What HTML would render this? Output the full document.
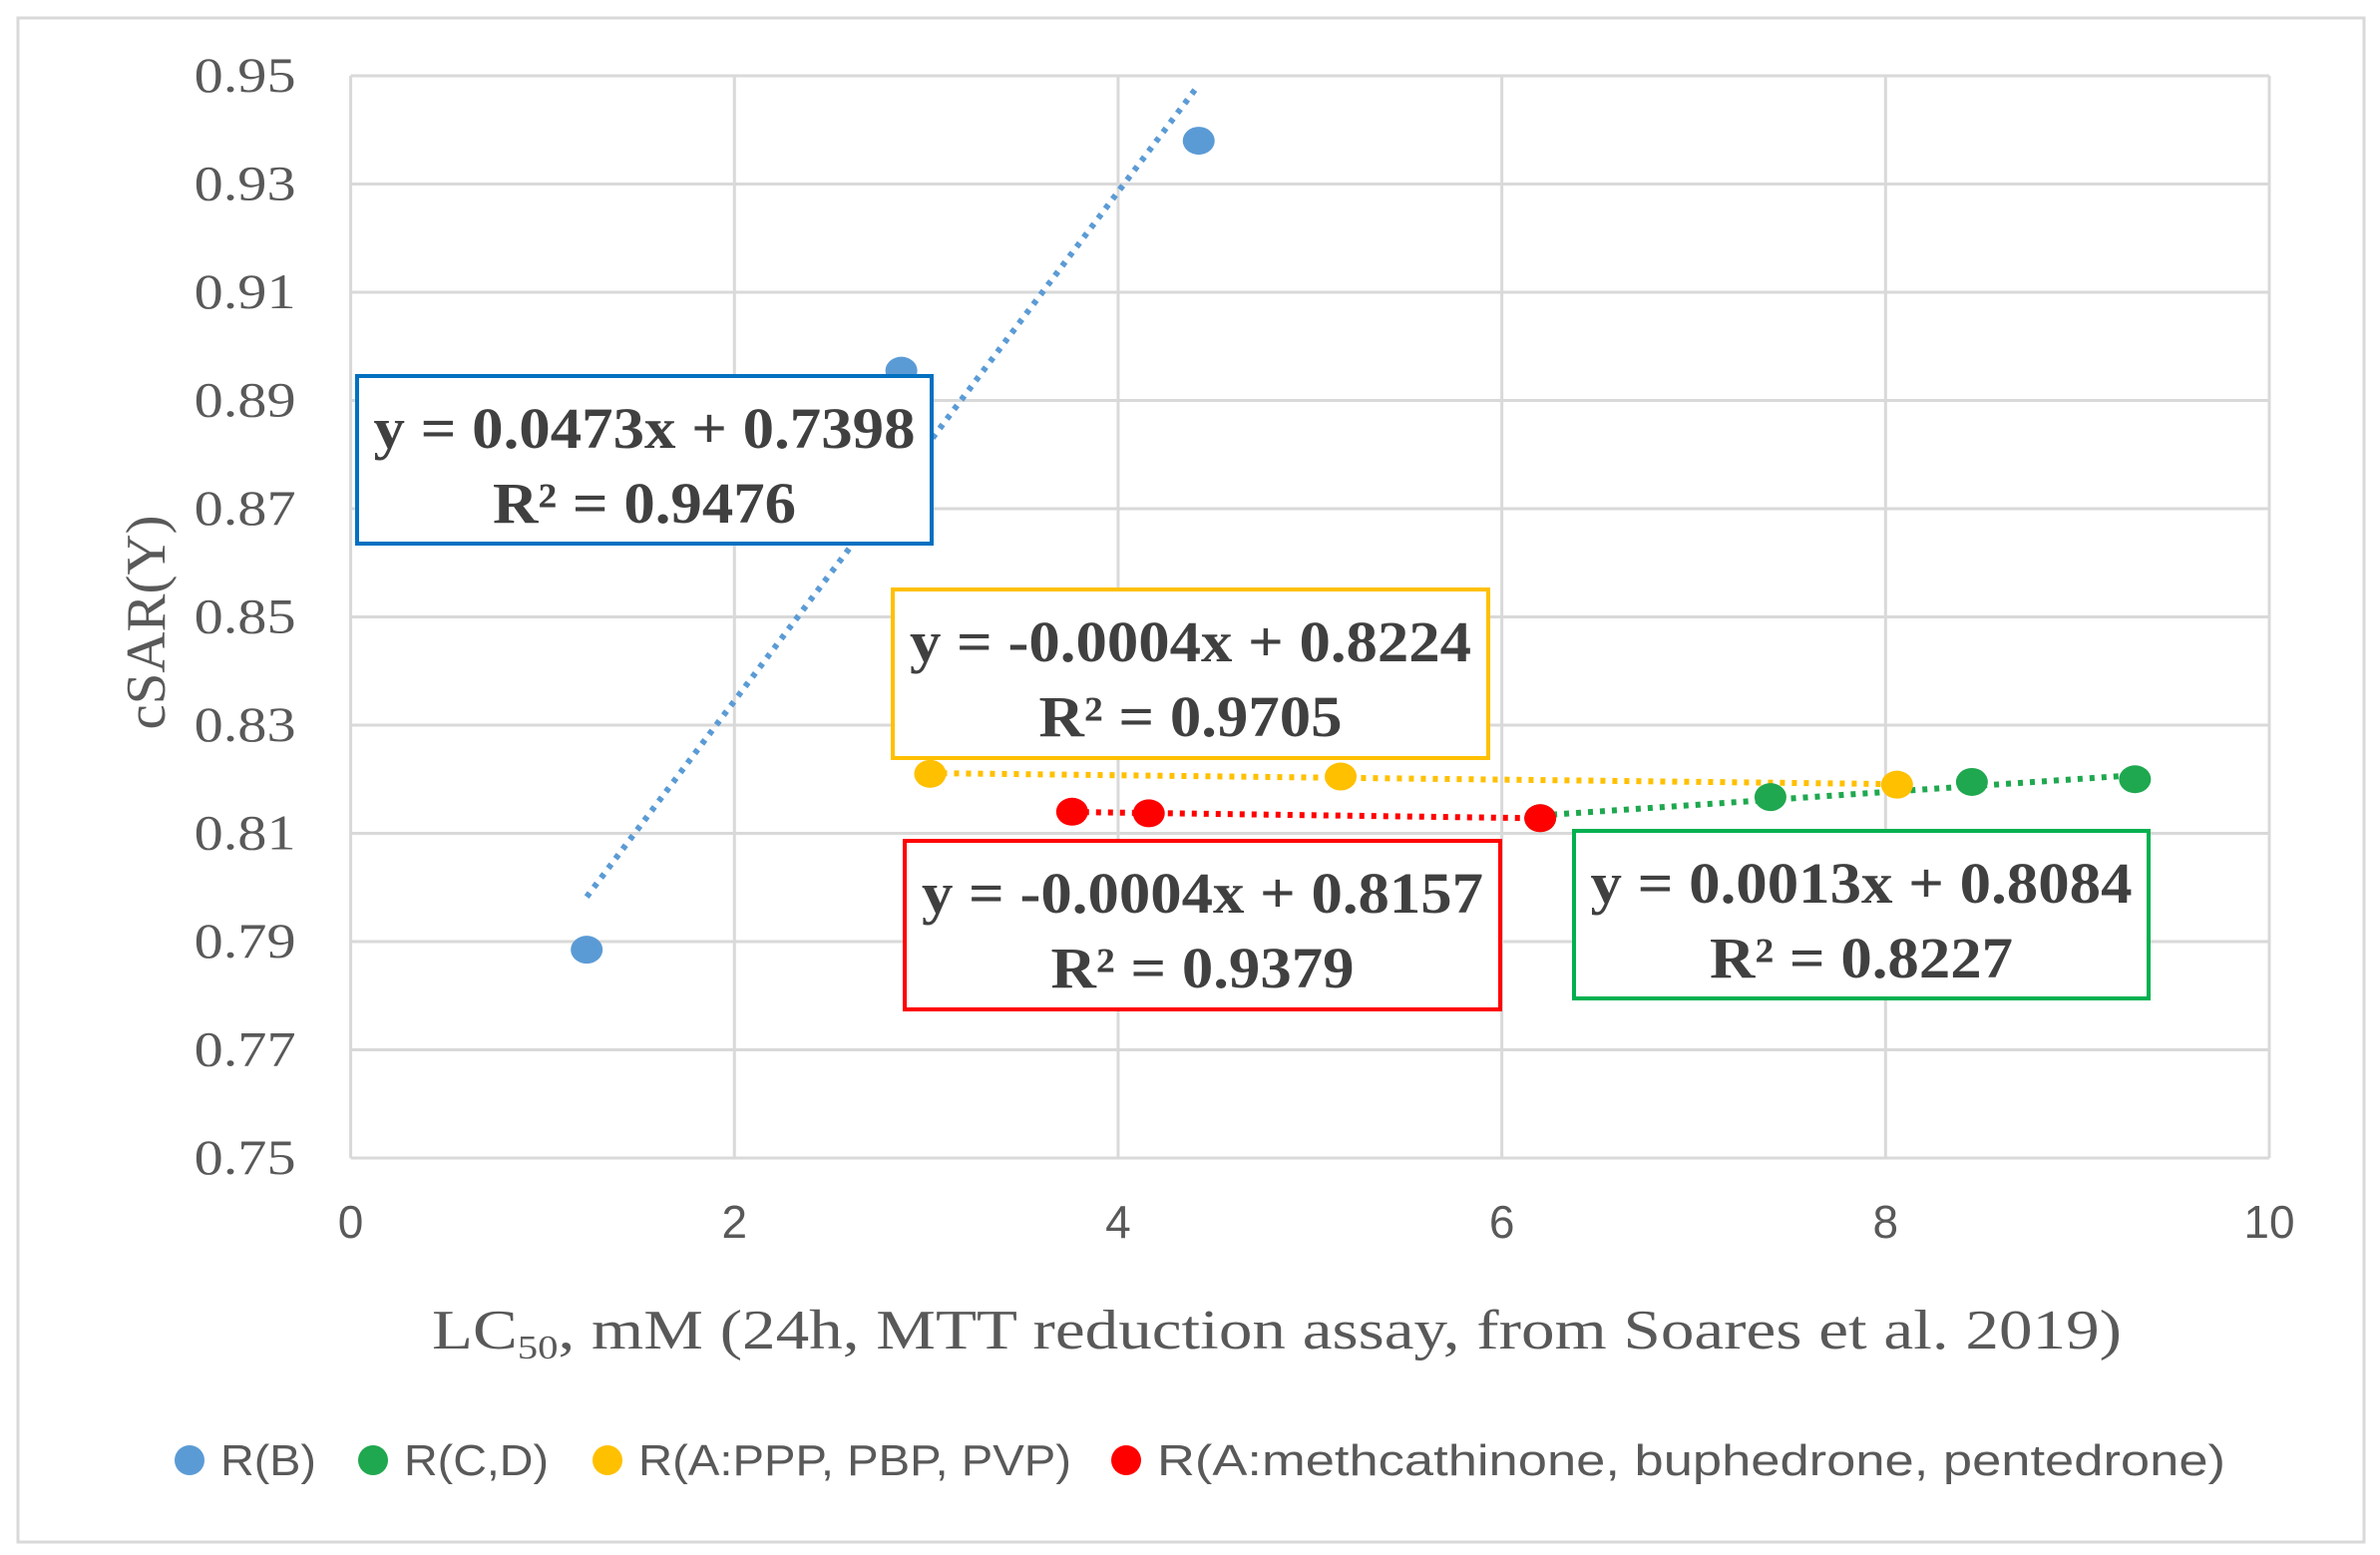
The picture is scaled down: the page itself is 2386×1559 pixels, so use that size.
<!DOCTYPE html>
<html><head><meta charset="utf-8"><style>
body{margin:0;background:#fff}
svg{display:block}
</style></head><body>
<svg id="chart" width="2386" height="1559" xmlns="http://www.w3.org/2000/svg">
<rect x="18" y="18" width="2352" height="1528" fill="#fff" stroke="#d9d9d9" stroke-width="3"/>
<g id="grid"></g>
<g id="trends"></g>
<g id="points"></g>
<g id="boxes"></g>
<text transform="translate(165,624) rotate(-90)" text-anchor="middle" font-family="Liberation Serif, serif" font-size="56" fill="#595959" textLength="215" lengthAdjust="spacingAndGlyphs">cSAR(Y)</text>
<text x="433" y="1352" font-family="Liberation Serif, serif" font-size="56" fill="#595959" textLength="1694" lengthAdjust="spacingAndGlyphs">LC<tspan font-size="34" dy="10">50</tspan><tspan dy="-10">, mM (24h, MTT reduction assay, from Soares et al. 2019)</tspan></text>
<g id="legend" font-family="Liberation Sans, sans-serif" font-size="44" fill="#595959"></g>
</svg>
<script>
const xTicks=[0,2,4,6,8,10];
const yTicks=[0.75,0.77,0.79,0.81,0.83,0.85,0.87,0.89,0.91,0.93,0.95];
const seriesNames=["R(B)","R(C,D)","R(A:PPP, PBP, PVP)","R(A:methcathinone, buphedrone, pentedrone)"];
const seriesColors=["#5b9bd5","#1fa84f","#ffc000","#ff0000"];
const blueX=[1.23,2.87,4.42];
const blueY=[0.7885,0.8955,0.938];
const greenX=[6.2,7.4,8.45,9.3];
const greenY=[0.8128,0.8167,0.8195,0.8200];
const yellowX=[3.02,5.16,8.06];
const yellowY=[0.8210,0.8205,0.8190];
const redX=[3.76,4.16,6.2];
const redY=[0.8140,0.8137,0.8128];
const eqLabels=["y = 0.0473x + 0.7398","y = 0.0013x + 0.8084","y = -0.0004x + 0.8224","y = -0.0004x + 0.8157"];
const r2Labels=["R² = 0.9476","R² = 0.8227","R² = 0.9705","R² = 0.9379"];
const X0=351.6,X1=2275,Y0=1161,Y1=76;
const sx=v=>X0+(v-0)/(10-0)*(X1-X0);
const sy=v=>Y0-(v-0.75)/(0.95-0.75)*(Y0-Y1);
const NS="http://www.w3.org/2000/svg";
function mk(tag,attrs,parent){const e=document.createElementNS(NS,tag);for(const k in attrs)e.setAttribute(k,attrs[k]);parent.appendChild(e);return e;}
function fit(xs,ys){const n=xs.length,mx=xs.reduce((a,b)=>a+b)/n,my=ys.reduce((a,b)=>a+b)/n;let num=0,den=0;xs.forEach((x,i)=>{num+=(x-mx)*(ys[i]-my);den+=(x-mx)*(x-mx);});const m=num/den;return [m,my-m*mx];}
const grid=document.getElementById('grid');
yTicks.forEach(t=>{
 const l=mk('line',{x1:X0,x2:X1,y1:sy(t),y2:sy(t),stroke:'#d9d9d9','stroke-width':3},grid);
 
 
 const tx=mk('text',{x:X0-55,y:sy(t)+16,'text-anchor':'end','font-family':'Liberation Serif, serif','font-size':50,fill:'#595959',textLength:102,lengthAdjust:'spacingAndGlyphs'},grid);
 tx.textContent=t.toFixed(2);
 
 
});
xTicks.forEach(t=>{
 const l=mk('line',{x1:sx(t),x2:sx(t),y1:Y0,y2:Y1,stroke:'#d9d9d9','stroke-width':3},grid);
 
 
 const tx=mk('text',{x:sx(t),y:Y0+80,'text-anchor':'middle','font-family':'Liberation Sans, sans-serif','font-size':46,fill:'#595959'},grid);
 tx.textContent=t;
 
 
});
const allX=[blueX,greenX,yellowX,redX],allY=[blueY,greenY,yellowY,redY];
const trends=document.getElementById('trends'),pts=document.getElementById('points');
[0,1,2,3].forEach(i=>{
 const xs=allX[i],a=Math.min(...xs),b=Math.max(...xs);
 const [m,c0]=fit(xs,allY[i]);
 const l=mk('line',{x1:sx(a),y1:sy(m*a+c0),x2:sx(b),y2:sy(m*b+c0),stroke:seriesColors[i],'stroke-width':6,'stroke-dasharray':'5 7'},trends);
 
 
 xs.forEach((x,j)=>{
  const c=mk('ellipse',{cx:sx(x),cy:sy(allY[i][j]),rx:16,ry:14,fill:seriesColors[i]},pts);
  
  
 });
});
const boxes=document.getElementById('boxes');
const boxRects=[[358,377,576,168,'#0070c0'],[1578,833,576,168,'#00b050'],[895,591,597,169,'#ffc000'],[907,843,597,169,'#ff0000']];
const eqLens=[543,543,563,563];
boxRects.forEach((r,i)=>{
 const g=mk('g',{},boxes);
 
 
 mk('rect',{x:r[0],y:r[1],width:r[2],height:r[3],fill:'#fff',stroke:r[4],'stroke-width':4},g);
 const t1=mk('text',{x:r[0]+r[2]/2,y:r[1]+72,'text-anchor':'middle','font-family':'Liberation Serif, serif','font-size':58,'font-weight':'bold',fill:'#404040',textLength:eqLens[i],lengthAdjust:'spacingAndGlyphs'},g);
 t1.textContent=eqLabels[i];
 const t2=mk('text',{x:r[0]+r[2]/2,y:r[1]+147,'text-anchor':'middle','font-family':'Liberation Serif, serif','font-size':58,'font-weight':'bold',fill:'#404040',textLength:304,lengthAdjust:'spacingAndGlyphs'},g);
 t2.textContent=r2Labels[i];
});
const lg=document.getElementById('legend');
const lgX=[190,374,609,1129];
const lgLen=[96,145,434,1071];
seriesNames.forEach((n,i)=>{
 const g=mk('g',{},lg);
 
 
 mk('circle',{cx:lgX[i],cy:1464,r:15,fill:seriesColors[i]},g);
 const t=mk('text',{x:lgX[i]+31,y:1479,textLength:lgLen[i],lengthAdjust:'spacingAndGlyphs'},g);
 t.textContent=n;
});
</script>
</body></html>
